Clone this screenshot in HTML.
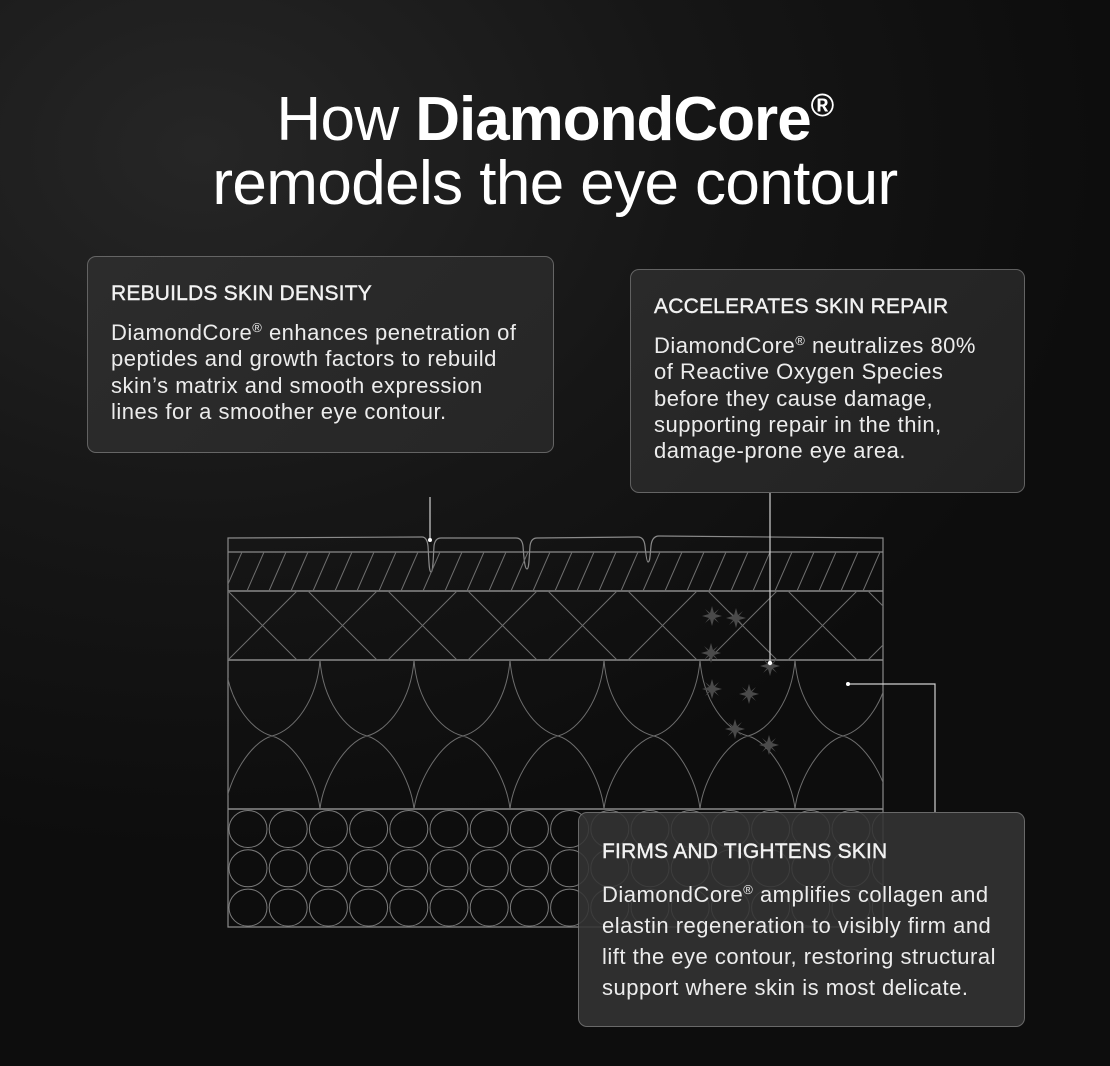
<!DOCTYPE html>
<html><head><meta charset="utf-8"><style>
html,body{margin:0;padding:0}
body{width:1110px;height:1066px;overflow:hidden;position:relative;font-family:"Liberation Sans",sans-serif;color:#f2f2f2;
background:radial-gradient(ellipse 900px 700px at 200px 150px,#262626 0%,#161616 55%,#0d0d0d 100%);}
.t{position:absolute;left:0;width:1110px;text-align:center;font-size:62px;line-height:64px;color:#fff;letter-spacing:-0.6px}
.box{position:absolute;border:1px solid rgba(255,255,255,0.28);border-radius:9px;box-sizing:border-box;padding:25px 0 0 23px;}
.box h3{margin:0 0 14px;font-size:21px;font-weight:normal;letter-spacing:0.2px;line-height:24px;-webkit-text-stroke:0.4px #f2f2f2}
.box p{margin:0;font-size:22px;line-height:26.3px;letter-spacing:0.5px;color:#ececec;white-space:nowrap}
sup{font-size:13px;vertical-align:8px;line-height:0}
svg{position:absolute;left:0;top:0}
</style></head><body>
<div class="t" style="top:88px">How <b style="letter-spacing:-1px">DiamondCore</b><sup style="font-size:32px;vertical-align:24px;font-weight:bold">®</sup></div>
<div class="t" style="top:152px">remodels the eye contour</div>

<svg width="1110" height="1066" viewBox="0 0 1110 1066">
<defs>
<clipPath id="c"><rect x="228" y="552" width="655" height="375"/></clipPath>
<g id="s"><path d="M0,-10 L2,-3 L7,-7 L3,-2 L10,0 L3,2 L7,7 L2,3 L0,10 L-2,3 L-7,7 L-3,2 L-10,0 L-3,-2 L-7,-7 L-2,-3 Z" fill="#4a4a4a"/></g>
</defs>
<g fill="none" stroke="#8a8a8a" stroke-width="1.2">
<path d="M228,538 L422,537 Q427,537 428,546 C429,562 429,572 431,572 C433,572 433,562 434,546 Q435,538 441,538 L516,538 Q522,538 523,546 C524,560 525,569 527,569 C529,569 529,560 530,546 Q531,538 537,538 L638,537 Q644,537 645,546 C646,556 647,562 648,562 C650,562 650,556 651,546 Q652,536 659,536 L883,538 L883,927 L228,927 Z"/>
<line x1="228" y1="552" x2="883" y2="552"/>
<line x1="228" y1="591" x2="883" y2="591" stroke-width="1.6"/>
<line x1="228" y1="660" x2="883" y2="660" stroke-width="1.6"/>
<line x1="228" y1="809" x2="883" y2="809" stroke-width="1.6"/>
</g>
<g clip-path="url(#c)" fill="none" stroke="#6e6e6e" stroke-width="1">
<path d="
M203,591 L220,552 M225,591 L242,552 M247,591 L264,552 M269,591 L286,552 M291,591 L308,552 M313,591 L330,552 M335,591 L352,552 M357,591 L374,552 M379,591 L396,552 M401,591 L418,552 M423,591 L440,552 M445,591 L462,552 M467,591 L484,552 M489,591 L506,552 M511,591 L528,552 M533,591 L550,552 M555,591 L572,552 M577,591 L594,552 M599,591 L616,552 M621,591 L638,552 M643,591 L660,552 M665,591 L682,552 M687,591 L704,552 M709,591 L726,552 M731,591 L748,552 M753,591 L770,552 M775,591 L792,552 M797,591 L814,552 M819,591 L836,552 M841,591 L858,552 M863,591 L880,552"/>
<path d="
M148,591 L217,660 M228,591 L297,660 M308,591 L377,660 M388,591 L457,660 M468,591 L537,660 M548,591 L617,660 M628,591 L697,660 M708,591 L777,660 M788,591 L857,660 M868,591 L937,660
M217,591 L148,660 M297,591 L228,660 M377,591 L308,660 M457,591 L388,660 M537,591 L468,660 M617,591 L548,660 M697,591 L628,660 M777,591 L708,660 M857,591 L788,660 M937,591 L868,660"/>
<path d="
M225,660 C222,700 200,730 177,736 M225,660 C228,700 250,730 272,736
M320,660 C317,700 295,730 272,736 M320,660 C323,700 345,730 367,736
M414,660 C411,700 389,730 367,736 M414,660 C417,700 439,730 463,736
M510,660 C507,700 485,730 463,736 M510,660 C513,700 535,730 558,736
M604,660 C601,700 579,730 558,736 M604,660 C607,700 629,730 654,736
M700,660 C697,700 675,730 654,736 M700,660 C703,700 725,730 748,736
M795,660 C792,700 770,730 748,736 M795,660 C798,700 820,730 843,736
M890,660 C887,700 865,730 843,736
M272,736 C250,742 228,780 225,809 M272,736 C294,742 317,780 320,809
M367,736 C345,742 323,780 320,809 M367,736 C389,742 411,780 414,809
M463,736 C441,742 418,780 414,809 M463,736 C485,742 507,780 510,809
M558,736 C536,742 513,780 510,809 M558,736 C580,742 601,780 604,809
M654,736 C632,742 607,780 604,809 M654,736 C676,742 697,780 700,809
M748,736 C726,742 703,780 700,809 M748,736 C770,742 792,780 795,809
M843,736 C821,742 798,780 795,809 M843,736 C865,742 887,780 890,809"/>
</g>
<g transform="translate(712,616)"><use href="#s"/></g>
<g transform="translate(736,618)"><use href="#s"/></g>
<g transform="translate(711,653)"><use href="#s"/></g>
<g transform="translate(770,666)"><use href="#s"/></g>
<g transform="translate(712,689)"><use href="#s"/></g>
<g transform="translate(749,694)"><use href="#s"/></g>
<g transform="translate(735,729)"><use href="#s"/></g>
<g transform="translate(769,745)"><use href="#s"/></g>
<g stroke="#d0d0d0" stroke-width="1.2" fill="none">
<line x1="430" y1="497" x2="430" y2="539"/>
<line x1="770" y1="463" x2="770" y2="663"/>
<polyline points="848,684 935,684 935,812"/>
</g>
<g fill="#fff"><circle cx="430" cy="540" r="2"/><circle cx="770" cy="663" r="2.2"/><circle cx="848" cy="684" r="2"/></g>
</svg>

<svg width="1110" height="1066" viewBox="0 0 1110 1066">
<defs><clipPath id="c2"><rect x="228" y="809" width="655" height="118"/></clipPath></defs>
<g clip-path="url(#c2)" fill="none" stroke="#7a7a7a" stroke-width="1">
<g id="rows"></g>
</g>
</svg>

<div class="box" style="left:87px;top:256px;width:467px;height:197px;background:linear-gradient(135deg,#2c2c2c,#262626)">
<h3>REBUILDS SKIN DENSITY</h3>
<p>DiamondCore<sup>®</sup> enhances penetration of<br>peptides and growth factors to rebuild<br>skin’s matrix and smooth expression<br>lines for a smoother eye contour.</p>
</div>
<div class="box" style="left:630px;top:269px;width:395px;height:224px;background:linear-gradient(135deg,#2a2a2a,#222)">
<h3>ACCELERATES SKIN REPAIR</h3>
<p>DiamondCore<sup>®</sup> neutralizes 80%<br>of Reactive Oxygen Species<br>before they cause damage,<br>supporting repair in the thin,<br>damage-prone eye area.</p>
</div>
<div class="box" style="left:578px;top:812px;width:447px;height:215px;background:rgba(52,52,52,0.88);padding-top:27px">
<h3 style="margin-bottom:15px">FIRMS AND TIGHTENS SKIN</h3>
<p style="line-height:31px">DiamondCore<sup>®</sup> amplifies collagen and<br>elastin regeneration to visibly firm and<br>lift the eye contour, restoring structural<br>support where skin is most delicate.</p>
</div>
<script>
(function(){
var ns="http://www.w3.org/2000/svg",g=document.getElementById("rows");
for(var r=0;r<3;r++)for(var i=0;i<17;i++){var e=document.createElementNS(ns,"ellipse");
e.setAttribute("cx",248+i*40.2);e.setAttribute("cy",829+r*39.3);e.setAttribute("rx",19);e.setAttribute("ry",18.5);g.appendChild(e);}
})();
</script>
</body></html>
